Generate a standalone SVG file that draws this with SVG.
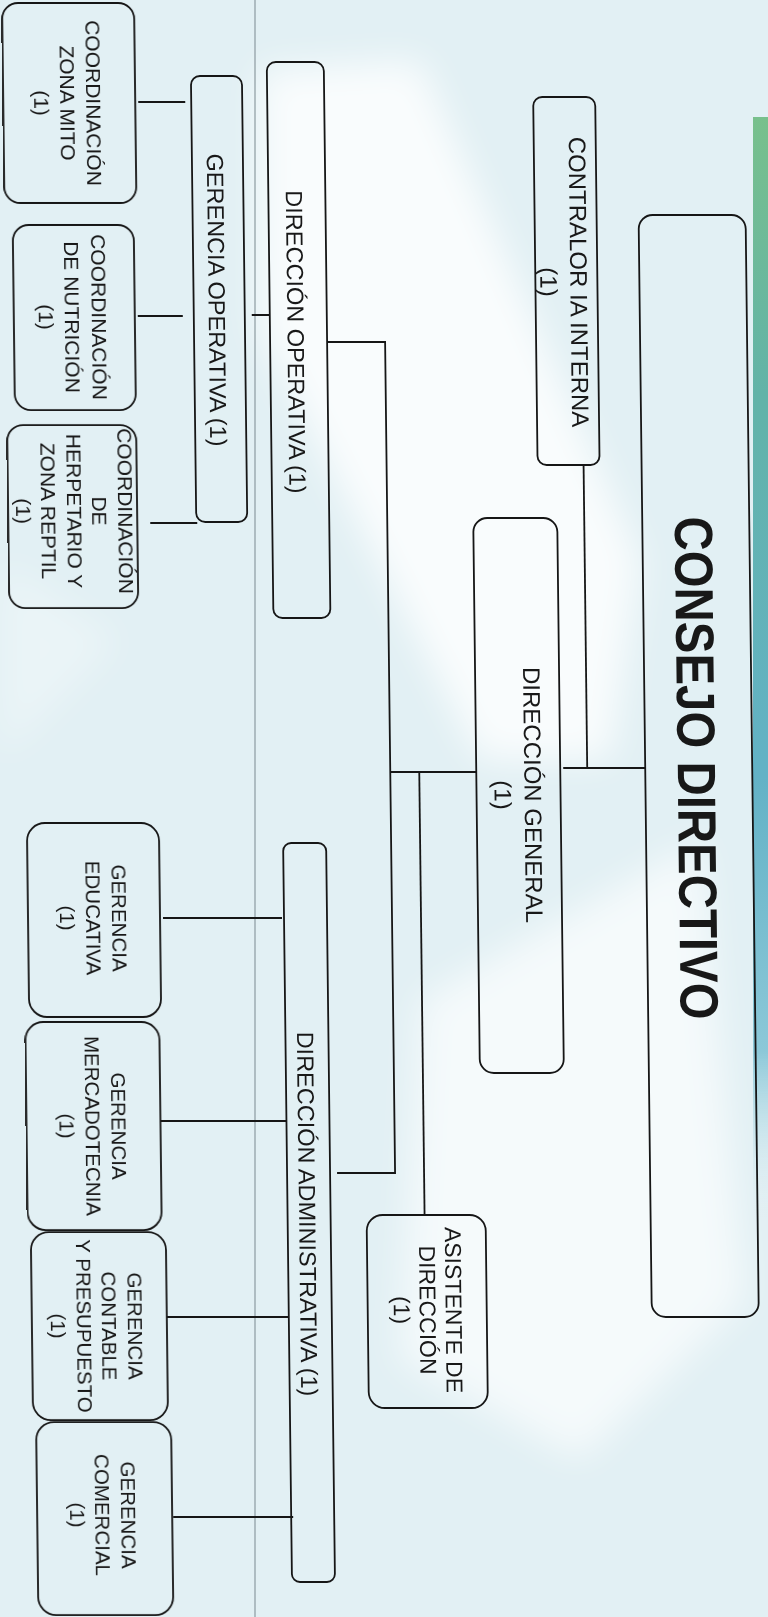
<svg xmlns="http://www.w3.org/2000/svg" width="768" height="1617" viewBox="0 0 768 1617">
<defs>
<style>
.box{fill:none;stroke:#161616;stroke-width:1.8}
.lbl{font-family:"Liberation Sans",Arial,sans-serif;fill:#181818;text-anchor:middle}
.f20{font-size:20.5px}
.f21{font-size:21px}
.f23{font-size:23px}
.f235{font-size:23.5px}
.f24{font-size:24px}
.title{font-size:54px;font-weight:bold}
#connectors path{fill:none;stroke:#161616;stroke-width:1.8}
</style>
<linearGradient id="strip" x1="0" y1="0" x2="0" y2="1">
<stop offset="0" stop-color="#78c08c"/>
<stop offset="0.25" stop-color="#62b3a8"/>
<stop offset="0.6" stop-color="#63b2c6"/>
<stop offset="0.85" stop-color="#8cc8d8"/>
<stop offset="1" stop-color="#e3f1f5" stop-opacity="0"/>
</linearGradient>
<filter id="soft" x="-20%" y="-20%" width="140%" height="140%">
<feGaussianBlur stdDeviation="18"/>
</filter>
</defs>
<rect x="0" y="0" width="768" height="1617" fill="#e2f0f4"/>
<g id="background" fill="#ffffff" filter="url(#soft)">
<polygon points="260,70 420,60 640,560 610,760 480,760 260,330" opacity="0.8"/>
<polygon points="420,1000 700,840 745,1300 580,1460 400,1360" opacity="0.65"/>
<polygon points="0,560 120,640 0,760" opacity="0.3"/>
</g>
<rect x="753" y="117" width="15" height="1100" fill="url(#strip)"/>
<line x1="255" y1="0" x2="255" y2="1617" stroke="#8c9aa0" stroke-width="1.2"/>
<g transform="skewX(0.6875)">
<g id="connectors">
<path d="M137,102 H184"/>
<path d="M134,316 H179"/>
<path d="M144,523 H191"/>
<path d="M248,315 H266"/>
<path d="M323,342 H381 V1173 H323"/>
<path d="M381,772 H467"/>
<path d="M410,772 V1215"/>
<path d="M554,768 H636"/>
<path d="M578,465 V768"/>
<path d="M152,918 H271"/>
<path d="M147,1121 H273"/>
<path d="M151,1317 H273"/>
<path d="M155,1517 H275"/>
</g>
<g id="n-consejo">
<rect class="box" x="636" y="215" width="107" height="1102" rx="14"/>
<text class="lbl title" transform="translate(668.5,768) rotate(90)" x="0" y="0" textLength="503" lengthAdjust="spacingAndGlyphs">CONSEJO DIRECTIVO</text>
</g>
<g id="n-contralor">
<rect class="box" x="532" y="97" width="62" height="368" rx="9"/>
<text class="lbl f24" transform="translate(567,282) rotate(90)"><tspan x="0" y="0">CONTRALOR IA INTERNA</tspan><tspan x="0" dy="30">(1)</tspan></text>
</g>
<g id="n-dgeneral">
<rect class="box" x="467" y="518" width="84" height="555" rx="14"/>
<text class="lbl f24" transform="translate(515,795) rotate(90)"><tspan x="0" y="0">DIRECCIÓN GENERAL</tspan><tspan x="0" dy="30">(1)</tspan></text>
</g>
<g id="n-asistente">
<rect class="box" x="352" y="1215" width="119" height="193" rx="16"/>
<text class="lbl f23" transform="translate(430,1310) rotate(90)"><tspan x="0" y="0">ASISTENTE DE</tspan><tspan x="0" dy="26">DIRECCIÓN</tspan><tspan x="0" dy="26">(1)</tspan></text>
</g>
<g id="n-doperativa">
<rect class="box" x="266" y="62" width="57" height="556" rx="9"/>
<text class="lbl f235" transform="translate(283.5,342) rotate(90)">DIRECCIÓN OPERATIVA (1)</text>
</g>
<g id="n-goperativa">
<rect class="box" x="190" y="76" width="51" height="446" rx="9"/>
<text class="lbl f235" transform="translate(205,300) rotate(90)">GERENCIA OPERATIVA (1)</text>
</g>
<g id="n-mito">
<rect class="box" x="2" y="3" width="132" height="200" rx="16"/>
<text class="lbl f21" transform="translate(84.5,103) rotate(90)"><tspan x="0" y="0">COORDINACIÓN</tspan><tspan x="0" dy="26">ZONA MITO</tspan><tspan x="0" dy="26">(1)</tspan></text>
</g>
<g id="n-nutricion">
<rect class="box" x="10" y="225" width="121" height="185" rx="16"/>
<text class="lbl f21" transform="translate(87.5,317) rotate(90)"><tspan x="0" y="0">COORDINACIÓN</tspan><tspan x="0" dy="26.5">DE NUTRICIÓN</tspan><tspan x="0" dy="26.5">(1)</tspan></text>
</g>
<g id="n-herpetario">
<rect class="box" x="2" y="425" width="129" height="183" rx="16"/>
<text class="lbl f21" transform="translate(111.5,511) rotate(90)"><tspan x="0" y="0">COORDINACIÓN</tspan><tspan x="0" dy="25.5">DE</tspan><tspan x="0" dy="25.5">HERPETARIO Y</tspan><tspan x="0" dy="25.5">ZONA REPTIL</tspan><tspan x="0" dy="25.5">(1)</tspan></text>
</g>
<g id="n-dadministrativa">
<rect class="box" x="273" y="843" width="43" height="739" rx="8"/>
<text class="lbl f235" transform="translate(284.5,1214) rotate(90)">DIRECCIÓN ADMINISTRATIVA (1)</text>
</g>
<g id="n-educativa">
<rect class="box" x="17" y="823" width="132" height="194" rx="18"/>
<text class="lbl f20" transform="translate(100.7,918) rotate(90)"><tspan x="0" y="0">GERENCIA</tspan><tspan x="0" dy="26">EDUCATIVA</tspan><tspan x="0" dy="26">(1)</tspan></text>
</g>
<g id="n-mercadotecnia">
<rect class="box" x="13" y="1022" width="134" height="208" rx="18"/>
<text class="lbl f20" transform="translate(98,1126) rotate(90)"><tspan x="0" y="0">GERENCIA</tspan><tspan x="0" dy="26">MERCADOTECNIA</tspan><tspan x="0" dy="26">(1)</tspan></text>
</g>
<g id="n-contable">
<rect class="box" x="16" y="1232" width="135" height="188" rx="18"/>
<text class="lbl f20" transform="translate(111.7,1326) rotate(90)"><tspan x="0" y="0">GERENCIA</tspan><tspan x="0" dy="25.5">CONTABLE</tspan><tspan x="0" dy="25.5">Y PRESUPUESTO</tspan><tspan x="0" dy="25.5">(1)</tspan></text>
</g>
<g id="n-comercial">
<rect class="box" x="19" y="1422" width="135" height="193" rx="18"/>
<text class="lbl f20" transform="translate(102.5,1515) rotate(90)"><tspan x="0" y="0">GERENCIA</tspan><tspan x="0" dy="25.5">COMERCIAL</tspan><tspan x="0" dy="25.5">(1)</tspan></text>
</g>
</g>
</svg>
